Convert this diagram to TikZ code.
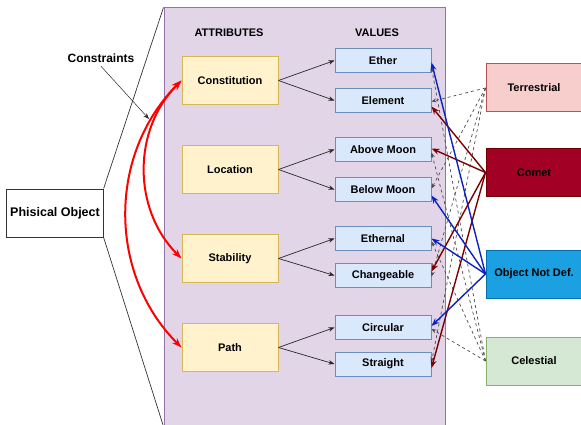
\documentclass[tikz,border=0pt]{standalone}
\usepackage{fontspec}
\setmainfont{Liberation Sans}
\usepackage{tikz}
\usetikzlibrary{arrows.meta, positioning}
\definecolor{attrfill}{HTML}{FFF2CC}
\definecolor{attrline}{HTML}{D6B656}
\definecolor{valfill}{HTML}{DAE8FC}
\definecolor{valline}{HTML}{6C8EBF}
\definecolor{panelfill}{HTML}{E1D5E7}
\definecolor{panelline}{HTML}{9673A6}
\definecolor{terrfill}{HTML}{F8CECC}
\definecolor{terrline}{HTML}{B85450}
\definecolor{cometfill}{HTML}{A20025}
\definecolor{cometline}{HTML}{6F0000}
\definecolor{ondfill}{HTML}{1BA1E2}
\definecolor{ondline}{HTML}{006EAF}
\definecolor{celfill}{HTML}{D5E8D4}
\definecolor{celline}{HTML}{82B366}
\definecolor{cometarr}{HTML}{7A0000}
\definecolor{ondarr}{HTML}{0A22C0}

\begin{document}
\begin{tikzpicture}[
    x=1pt, y=-1pt,
    every node/.style={font=\fontsize{11}{13}\selectfont\bfseries, line width=1pt},
    attr/.style={draw=attrline, fill=attrfill, minimum width=96pt, minimum height=48pt},
    val/.style={draw=valline, fill=valfill, minimum width=96pt, minimum height=24pt},
    kind/.style={minimum width=96pt, minimum height=48pt},
    arr/.style={-{Stealth[length=6pt,width=4.5pt]}, line width=0.7pt, black!85},
    cons/.style={{Stealth[length=10pt,width=7pt]}-{Stealth[length=10pt,width=7pt]},
                 line width=2pt, red},
    guess/.style={-{Stealth[length=5pt,width=4pt]}, dashed, line width=0.7pt, black!70},
    cometarrow/.style={-{Stealth[length=8pt,width=6pt]}, line width=1.4pt, cometarr},
    ondarrow/.style={-{Stealth[length=8pt,width=6pt]}, line width=1.4pt, ondarr},
]
  \useasboundingbox (0,0) rectangle (581,425);

  \node[draw=panelline, fill=panelfill, minimum width=281pt, minimum height=418pt] (panel) at (304.5,217) {};
  \node[draw=black!80, fill=white, minimum width=96pt, minimum height=48pt,
        font=\fontsize{12.5}{14}\selectfont\bfseries] (phys) at (55,213) {Phisical Object};
  \draw[black!80, line width=0.7pt] (phys.north east) -- (panel.north west);
  \draw[black!80, line width=0.7pt] (phys.south east) -- (panel.south west);

  \node[font=\fontsize{11}{13}\selectfont\bfseries] (atitle) at (229,33) {ATTRIBUTES};
  \node[font=\fontsize{11}{13}\selectfont\bfseries] (vtitle) at (377,33) {VALUES};

  \node[attr] (con) at (230,80.5) {Constitution};
  \node[attr, below=40pt of con] (loc) {Location};
  \node[attr, below=40pt of loc] (sta) {Stability};
  \node[attr, below=40pt of sta] (pth) {Path};

  \node[val, right=56pt of con, yshift=20pt]  (eth) {Ether};
  \node[val, right=56pt of con, yshift=-20pt] (ele) {Element};
  \node[val, right=56pt of loc, yshift=20pt]  (abv) {Above Moon};
  \node[val, right=56pt of loc, yshift=-20pt] (blw) {Below Moon};
  \node[val, right=56pt of sta, yshift=20pt]  (etl) {Ethernal};
  \node[val, right=56pt of sta, yshift=-17pt] (chg) {Changeable};
  \node[val, right=56pt of pth, yshift=20pt]  (cir) {Circular};
  \node[val, right=56pt of pth, yshift=-16.5pt] (str) {Straight};

  \node[kind, draw=terrline, fill=terrfill] (terr) at (534,88) {Terrestrial};
  \node[kind, draw=cometline, fill=cometfill] (comet) at (534,172.5) {Comet};
  \node[kind, draw=ondline, fill=ondfill] (ond) at (534,274) {Object Not Def.};
  \node[kind, draw=celline, fill=celfill] (cel) at (534,361) {Celestial};

  \node[font=\fontsize{12}{14}\selectfont\bfseries] (cnote) at (101,58) {Constraints};
  \coordinate (cend) at (149,119);
  \draw[arr, line width=0.5pt] (cnote.south) -- (cend);

  \draw[arr] (con.east) -- (eth.west);
  \draw[arr] (con.east) -- (ele.west);
  \draw[arr] (loc.east) -- (abv.west);
  \draw[arr] (loc.east) -- (blw.west);
  \draw[arr] (sta.east) -- (etl.west);
  \draw[arr] (sta.east) -- (chg.west);
  \draw[arr] (pth.east) -- (cir.west);
  \draw[arr] (pth.east) -- (str.west);

  \draw[cons] (con.west) to[bend right=45] (sta.west);
  \draw[cons] (con.west) to[bend right=45] (pth.west);

  \draw[guess] (terr.west) -- ([yshift=-1pt]ele.east);
  \draw[guess] (terr.west) -- ([yshift=1pt]blw.east);
  \draw[guess] (terr.west) -- ([yshift=-1pt]chg.east);
  \draw[guess] (terr.west) -- ([yshift=2pt]str.east);
  \draw[guess] (cel.west) -- ([yshift=-7pt]eth.east);
  \draw[guess] (cel.west) -- ([yshift=-3pt]abv.east);
  \draw[guess] (cel.west) -- ([yshift=-3pt]etl.east);
  \draw[guess] (cel.west) -- ([yshift=-1.5pt]cir.east);

  \draw[cometarrow] (comet.west) -- ([yshift=-6pt]ele.east);
  \draw[cometarrow] (comet.west) -- ([yshift=1pt]abv.east);
  \draw[cometarrow] (comet.west) -- ([yshift=4pt]chg.east);
  \draw[cometarrow] (comet.west) -- ([yshift=-4pt]str.east);

  \draw[ondarrow] (ond.west) -- ([yshift=-2pt]eth.east);
  \draw[ondarrow] (ond.west) -- ([yshift=-6pt]blw.east);
  \draw[ondarrow] (ond.west) -- (etl.east);
  \draw[ondarrow] (ond.west) -- ([yshift=1.5pt]cir.east);
\end{tikzpicture}
\end{document}
